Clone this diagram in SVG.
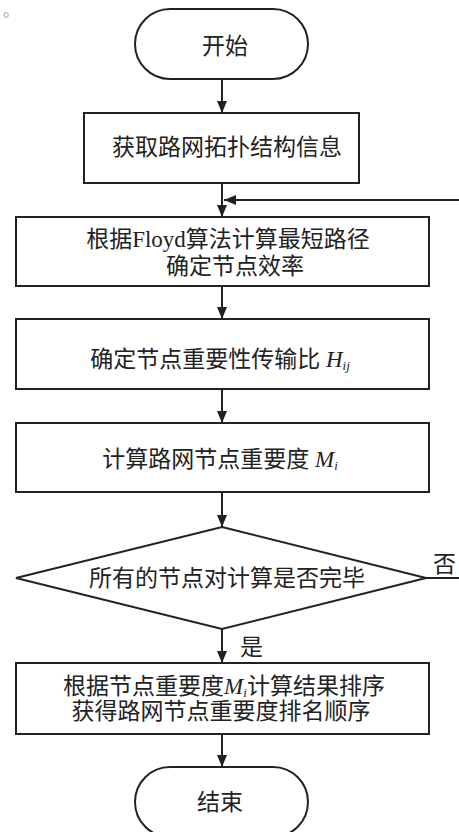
<svg xmlns="http://www.w3.org/2000/svg" width="459" height="832" viewBox="0 0 459 832">
<style>
.shape{fill:#fff;stroke:#222;stroke-width:2}
.conn{fill:none;stroke:#222;stroke-width:2}
text{font-family:"Liberation Serif","Noto Sans CJK SC",serif;font-size:23px;fill:#222}
.c{text-anchor:middle}
.it{font-style:italic}
.sub{font-size:13px;font-style:italic}
</style>
<defs>
<marker id="ah" viewBox="0 0 12 10" refX="12" refY="5" markerWidth="12" markerHeight="10" markerUnits="userSpaceOnUse" orient="auto">
<path d="M0,0 L12,5 L0,10 Z" fill="#222"/>
</marker>
</defs>
<rect width="459" height="832" fill="#fff"/>
<text x="3" y="16" style="fill:#999;font-size:16px">。</text>
<g id="connectors">
<line class="conn" x1="222" y1="79" x2="222" y2="113" marker-end="url(#ah)"/>
<line class="conn" x1="222" y1="183" x2="222" y2="217" marker-end="url(#ah)"/>
<line class="conn" x1="222" y1="286" x2="222" y2="319" marker-end="url(#ah)"/>
<line class="conn" x1="222" y1="389" x2="222" y2="423" marker-end="url(#ah)"/>
<line class="conn" x1="222" y1="492" x2="222" y2="527" marker-end="url(#ah)"/>
<line class="conn" x1="222" y1="629" x2="222" y2="663" marker-end="url(#ah)"/>
<line class="conn" x1="222" y1="734" x2="222" y2="767" marker-end="url(#ah)"/>
<path class="conn" d="M426,578 H470 V200 H224" marker-end="url(#ah)"/>
<text x="240" y="655">是</text>
<text x="433" y="572">否</text>
</g>
<g id="start">
<rect class="shape" x="135" y="9" width="173" height="70" rx="35" ry="35"/>
<text class="c" x="225" y="54">开始</text>
</g>
<g id="getTopology">
<rect class="shape" x="84" y="113" width="275" height="70"/>
<text class="c" x="227" y="155">获取路网拓扑结构信息</text>
</g>
<g id="floyd">
<rect class="shape" x="16" y="217" width="413" height="69"/>
<text class="c" x="228" y="247">根据Floyd算法计算最短路径</text>
<text class="c" x="235" y="274">确定节点效率</text>
</g>
<g id="transferRatio">
<rect class="shape" x="16" y="319" width="413" height="70"/>
<text class="c" x="220" y="367">确定节点重要性传输比 <tspan class="it">H</tspan><tspan class="sub" dy="3">ij</tspan></text>
</g>
<g id="importance">
<rect class="shape" x="16" y="423" width="413" height="69"/>
<text class="c" x="220" y="467">计算路网节点重要度 <tspan class="it">M</tspan><tspan class="sub" dy="3">i</tspan></text>
</g>
<g id="decision">
<polygon class="shape" points="222,527 426,578 222,629 16,578"/>
<text class="c" x="227" y="586">所有的节点对计算是否完毕</text>
</g>
<g id="ranking">
<rect class="shape" x="16" y="663" width="413" height="71"/>
<text class="c" x="224" y="694">根据节点重要度<tspan class="it">M</tspan><tspan class="sub" dy="3">i</tspan><tspan dy="-3">计算结果排序</tspan></text>
<text class="c" x="221" y="719">获得路网节点重要度排名顺序</text>
</g>
<g id="end">
<rect class="shape" x="135" y="767" width="173" height="70" rx="35" ry="35"/>
<text class="c" x="220" y="810">结束</text>
</g>
</svg>
